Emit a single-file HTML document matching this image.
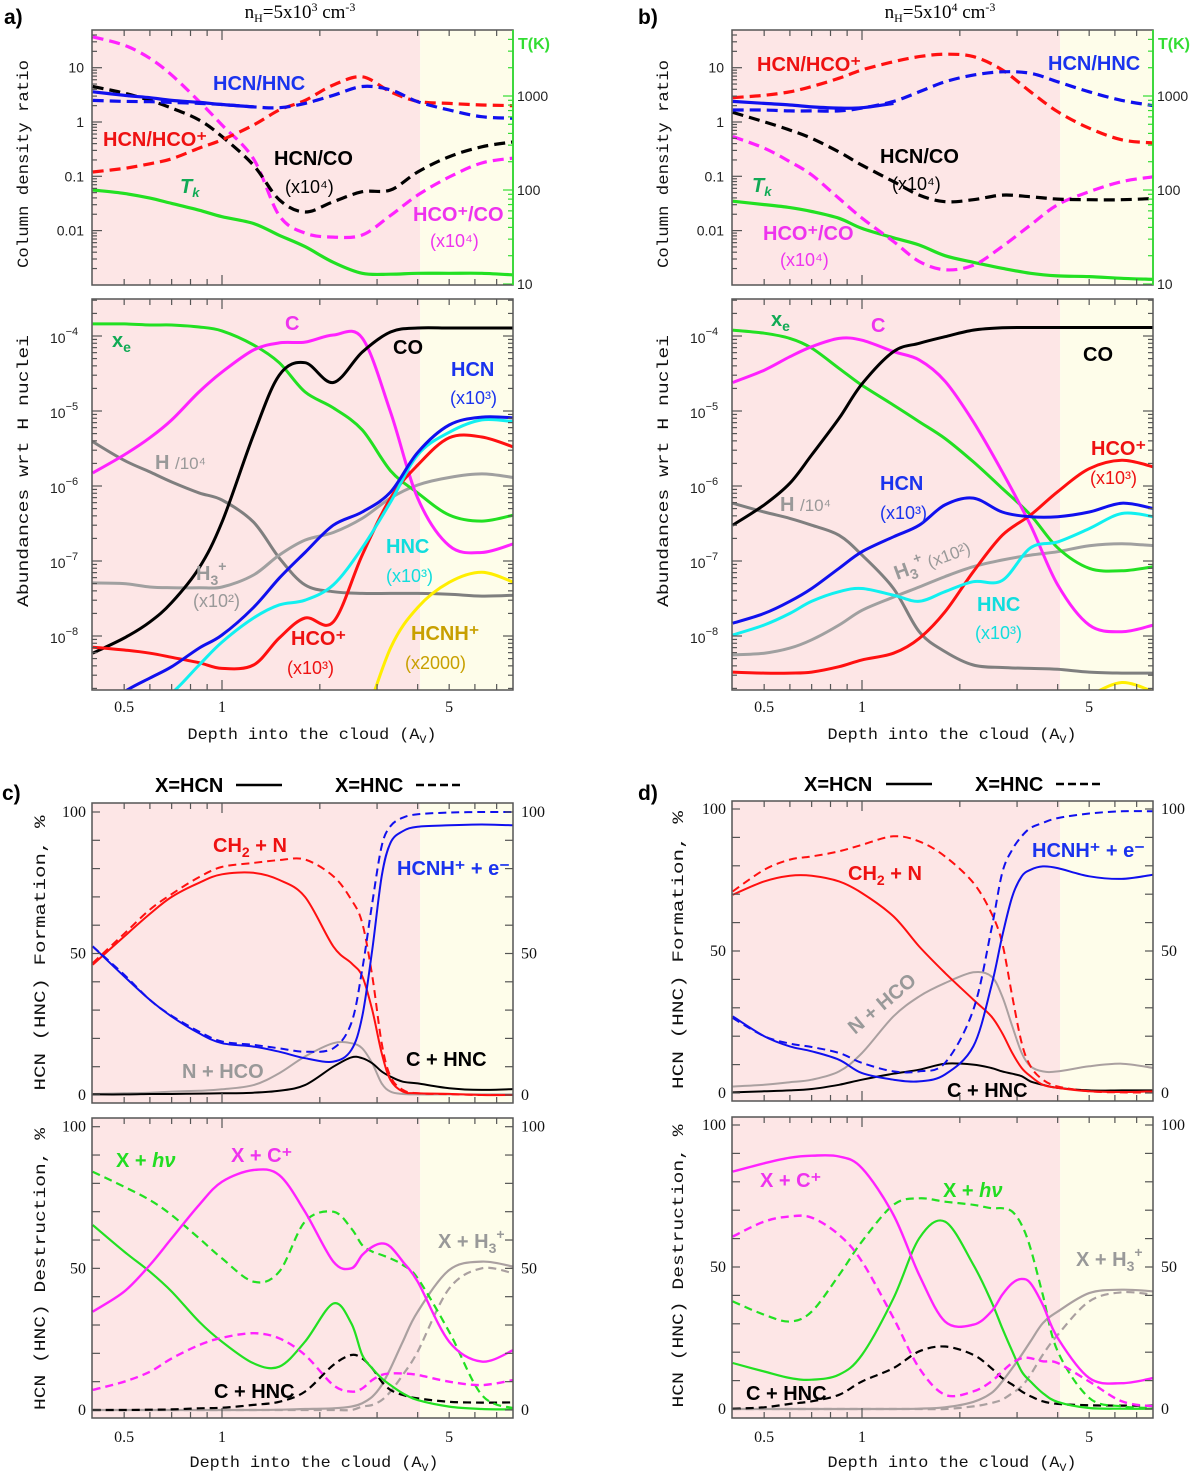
<!DOCTYPE html>
<html><head><meta charset="utf-8"><title>HCN/HNC chemistry figure</title>
<style>
html,body{margin:0;padding:0;background:#fff;}
svg{display:block;}
.lab{font-family:"Liberation Sans",sans-serif;font-weight:bold;font-size:20px;}
.sub{font-family:"Liberation Sans",sans-serif;font-size:18px;}
.tick{font-family:"Liberation Sans",sans-serif;font-size:14px;fill:#222;}
.ttl{font-family:"Liberation Mono",monospace;font-size:16px;fill:#111;}
.num{font-family:"Liberation Serif",serif;font-size:16px;fill:#111;}
</style></head>
<body>
<svg id="fig" width="1200" height="1473" viewBox="0 0 1200 1473" xmlns="http://www.w3.org/2000/svg">
<defs id="defs"></defs>
<g id="layer"></g>
<g id="labels">
  <text x="4" y="24" font-family="Liberation Sans" font-weight="bold" font-size="21">a)</text>
  <text x="638" y="24" font-family="Liberation Sans" font-weight="bold" font-size="21">b)</text>
  <text x="2" y="800" font-family="Liberation Sans" font-weight="bold" font-size="21">c)</text>
  <text x="638" y="800" font-family="Liberation Sans" font-weight="bold" font-size="21">d)</text>
  <text x="300" y="18" text-anchor="middle" font-family="Liberation Serif" font-size="19">n<tspan font-size="12" dy="4">H</tspan><tspan dy="-4">=5x10</tspan><tspan font-size="12" dy="-7">3</tspan><tspan dy="7"> cm</tspan><tspan font-size="12" dy="-7">-3</tspan></text>
  <text x="940" y="18" text-anchor="middle" font-family="Liberation Serif" font-size="19">n<tspan font-size="12" dy="4">H</tspan><tspan dy="-4">=5x10</tspan><tspan font-size="12" dy="-7">4</tspan><tspan dy="7"> cm</tspan><tspan font-size="12" dy="-7">-3</tspan></text>

  <text class="ttl" transform="translate(28,164) rotate(-90)" text-anchor="middle" textLength="208" lengthAdjust="spacingAndGlyphs">Column density ratio</text>
  <text class="ttl" transform="translate(28,471) rotate(-90)" text-anchor="middle" textLength="272" lengthAdjust="spacingAndGlyphs">Abundances wrt H nuclei</text>
  <text class="ttl" transform="translate(668,164) rotate(-90)" text-anchor="middle" textLength="208" lengthAdjust="spacingAndGlyphs">Column density ratio</text>
  <text class="ttl" transform="translate(668,471) rotate(-90)" text-anchor="middle" textLength="272" lengthAdjust="spacingAndGlyphs">Abundances wrt H nuclei</text>
  <text class="ttl" transform="translate(45,953) rotate(-90)" text-anchor="middle" textLength="275" lengthAdjust="spacingAndGlyphs">HCN (HNC) Formation, %</text>
  <text class="ttl" transform="translate(45,1269) rotate(-90)" text-anchor="middle" textLength="282" lengthAdjust="spacingAndGlyphs">HCN (HNC) Destruction, %</text>
  <text class="ttl" transform="translate(683,950) rotate(-90)" text-anchor="middle" textLength="278" lengthAdjust="spacingAndGlyphs">HCN (HNC) Formation, %</text>
  <text class="ttl" transform="translate(683,1266) rotate(-90)" text-anchor="middle" textLength="283" lengthAdjust="spacingAndGlyphs">HCN (HNC) Destruction, %</text>

  <text class="ttl" x="312" y="739" text-anchor="middle" textLength="249" lengthAdjust="spacingAndGlyphs">Depth into the cloud (A<tspan font-size="11" dy="4">V</tspan><tspan dy="-4">)</tspan></text>
  <text class="ttl" x="952" y="739" text-anchor="middle" textLength="249" lengthAdjust="spacingAndGlyphs">Depth into the cloud (A<tspan font-size="11" dy="4">V</tspan><tspan dy="-4">)</tspan></text>
  <text class="ttl" x="314" y="1467" text-anchor="middle" textLength="249" lengthAdjust="spacingAndGlyphs">Depth into the cloud (A<tspan font-size="11" dy="4">V</tspan><tspan dy="-4">)</tspan></text>
  <text class="ttl" x="952" y="1467" text-anchor="middle" textLength="249" lengthAdjust="spacingAndGlyphs">Depth into the cloud (A<tspan font-size="11" dy="4">V</tspan><tspan dy="-4">)</tspan></text>

  <text x="518" y="49" fill="#33dd33" font-family="Liberation Sans" font-weight="bold" font-size="16">T(K)</text>
  <text x="1158" y="49" fill="#33dd33" font-family="Liberation Sans" font-weight="bold" font-size="16">T(K)</text>

  <text class="lab" x="213" y="90" fill="#1a33ee">HCN/HNC</text>
  <text class="lab" x="103" y="146" fill="#ee1111">HCN/HCO⁺</text>
  <text class="lab" x="274" y="165" fill="#000">HCN/CO</text>
  <text class="sub" x="285" y="193" fill="#000">(x10⁴)</text>
  <text class="lab" x="413" y="221" fill="#ee33ee">HCO⁺/CO</text>
  <text class="sub" x="430" y="247" fill="#ee33ee">(x10⁴)</text>
  <text class="lab" x="180" y="193" fill="#11aa55" font-style="italic">T<tspan font-size="13" dy="4">k</tspan></text>
  <text class="lab" x="757" y="71" fill="#ee1111">HCN/HCO⁺</text>
  <text class="lab" x="1048" y="70" fill="#1a33ee">HCN/HNC</text>
  <text class="lab" x="880" y="163" fill="#000">HCN/CO</text>
  <text class="sub" x="892" y="190" fill="#000">(x10⁴)</text>
  <text class="lab" x="752" y="192" fill="#11aa55" font-style="italic">T<tspan font-size="13" dy="4">k</tspan></text>
  <text class="lab" x="763" y="240" fill="#ee33ee">HCO⁺/CO</text>
  <text class="sub" x="780" y="266" fill="#ee33ee">(x10⁴)</text>

  <text class="lab" x="112" y="347" fill="#11aa55">x<tspan font-size="14" dy="5">e</tspan></text>
  <text class="lab" x="285" y="330" fill="#ee33ee">C</text>
  <text class="lab" x="393" y="354" fill="#000">CO</text>
  <text class="lab" x="451" y="376" fill="#1a33ee">HCN</text>
  <text class="sub" x="450" y="404" fill="#1a33ee">(x10³)</text>
  <text class="lab" x="155" y="469" fill="#999">H <tspan font-weight="normal" font-size="17">/10⁴</tspan></text>
  <text class="lab" x="196" y="580" fill="#999">H<tspan font-size="14" dy="5">3</tspan><tspan font-size="14" dy="-14">+</tspan></text>
  <text class="sub" x="193" y="607" fill="#999">(x10²)</text>
  <text class="lab" x="386" y="553" fill="#11dddd">HNC</text>
  <text class="sub" x="386" y="582" fill="#11dddd">(x10³)</text>
  <text class="lab" x="291" y="645" fill="#ee1111">HCO⁺</text>
  <text class="sub" x="287" y="674" fill="#ee1111">(x10³)</text>
  <text class="lab" x="411" y="640" fill="#c8a000">HCNH⁺</text>
  <text class="sub" x="405" y="669" fill="#c8a000">(x2000)</text>
  <text class="lab" x="771" y="326" fill="#11aa55">x<tspan font-size="14" dy="5">e</tspan></text>
  <text class="lab" x="871" y="332" fill="#ee33ee">C</text>
  <text class="lab" x="1083" y="361" fill="#000">CO</text>
  <text class="lab" x="1091" y="455" fill="#ee1111">HCO⁺</text>
  <text class="sub" x="1090" y="484" fill="#ee1111">(x10³)</text>
  <text class="lab" x="880" y="490" fill="#1a33ee">HCN</text>
  <text class="sub" x="880" y="519" fill="#1a33ee">(x10³)</text>
  <text class="lab" x="780" y="511" fill="#999">H <tspan font-weight="normal" font-size="17">/10⁴</tspan></text>
  <text class="lab" transform="translate(897,580) rotate(-20)" fill="#999">H<tspan font-size="14" dy="5">3</tspan><tspan font-size="14" dy="-14">+</tspan><tspan font-weight="normal" font-size="17" dy="9"> (x10²)</tspan></text>
  <text class="lab" x="977" y="611" fill="#11dddd">HNC</text>
  <text class="sub" x="975" y="639" fill="#11dddd">(x10³)</text>

  <text class="lab" x="155" y="792" fill="#000">X=HCN</text>
  <line x1="236" y1="785" x2="282" y2="785" stroke="#000" stroke-width="2.5"/>
  <text class="lab" x="335" y="792" fill="#000">X=HNC</text>
  <line x1="416" y1="785" x2="462" y2="785" stroke="#000" stroke-width="2.5" stroke-dasharray="8,4"/>
  <text class="lab" x="804" y="791" fill="#000">X=HCN</text>
  <line x1="886" y1="784" x2="932" y2="784" stroke="#000" stroke-width="2.5"/>
  <text class="lab" x="975" y="791" fill="#000">X=HNC</text>
  <line x1="1056" y1="784" x2="1102" y2="784" stroke="#000" stroke-width="2.5" stroke-dasharray="8,4"/>

  <text class="lab" x="213" y="852" fill="#ee1111">CH<tspan font-size="14" dy="5">2</tspan><tspan dy="-5"> + N</tspan></text>
  <text class="lab" x="397" y="875" fill="#1a33ee">HCNH⁺ + e⁻</text>
  <text class="lab" x="182" y="1078" fill="#999">N + HCO</text>
  <text class="lab" x="406" y="1066" fill="#000">C + HNC</text>
  <text class="lab" x="116" y="1167" fill="#22dd22">X + <tspan font-style="italic">hν</tspan></text>
  <text class="lab" x="231" y="1162" fill="#ee33ee">X + C⁺</text>
  <text class="lab" x="438" y="1248" fill="#999">X + H<tspan font-size="14" dy="5">3</tspan><tspan font-size="14" dy="-14">+</tspan></text>
  <text class="lab" x="214" y="1398" fill="#000">C + HNC</text>
  <text class="lab" x="848" y="880" fill="#ee1111">CH<tspan font-size="14" dy="5">2</tspan><tspan dy="-5"> + N</tspan></text>
  <text class="lab" x="1032" y="857" fill="#1a33ee">HCNH⁺ + e⁻</text>
  <text class="lab" transform="translate(855,1035) rotate(-40)" fill="#999">N + HCO</text>
  <text class="lab" x="947" y="1097" fill="#000">C + HNC</text>
  <text class="lab" x="760" y="1187" fill="#ee33ee">X + C⁺</text>
  <text class="lab" x="943" y="1197" fill="#22dd22">X + <tspan font-style="italic">hν</tspan></text>
  <text class="lab" x="1076" y="1266" fill="#999">X + H<tspan font-size="14" dy="5">3</tspan><tspan font-size="14" dy="-14">+</tspan></text>
  <text class="lab" x="746" y="1400" fill="#000">C + HNC</text>
</g>
</svg>
<script>
const depthAB = [0.4,0.5,0.6,0.7,0.85,1,1.25,1.5,1.8,2.2,2.7,3.3,4,5,6.3,7.9];
const depthCD = [0.4,0.5,0.6,0.7,0.85,1,1.25,1.5,1.8,2.2,2.5,2.7,2.9,3.1,3.3,3.6,4,5,6.3,7.9];
const xTickLabels = ["0.5","1","5"];
const xTickValues = [0.5,1,5];

const aHcnHncSolid = [3.6,3.1,2.8,2.5,2.3,2.1,1.9,null,null,null,null,null,null,null,null,null];
const aHcnHncDash = [2.5,2.4,2.37,2.3,2.2,2.1,1.9,1.83,2.2,3.1,4.5,3.9,2.37,1.66,1.25,1.17];
const aHcnHco = [0.12,0.14,0.17,0.21,0.33,0.47,0.88,1.66,2.5,4.8,6.8,3.6,2.4,2.2,2.06,2.0];
const aHcnCo = [4.5,3.4,2.5,1.8,1.09,0.54,0.16,0.037,0.022,0.034,0.052,0.056,0.12,0.23,0.35,0.43];
const aHcoCo = [37,26,14.9,7.3,2.4,0.88,0.21,0.019,0.009,0.0076,0.0083,0.019,0.045,0.097,0.176,0.217];
const aTk = [100,92,82,72,61,52,44,33,25,17,13,12.7,13,13,13,12.5];
const bHcnHco = [2.8,3.1,3.6,4.5,6.4,9.1,12.9,16,17.7,16,9.1,3.6,1.55,0.77,0.47,0.41];
const bHcnHncDash = [1.66,1.66,1.6,1.6,1.6,1.8,2.4,3.6,5.5,7.3,8.4,7.9,5.5,3.6,2.5,2.0];
const bHcnHncSolid = [2.4,2.2,2.06,1.9,1.8,1.83,2.2,null,null,null,null,null,null,null,null,null];
const bHcnCo = [1.5,1.01,0.71,0.5,0.28,0.16,0.08,0.045,0.034,0.037,0.045,0.042,0.038,0.037,0.037,0.039];
const bHcoCo = [0.54,0.33,0.186,0.106,0.039,0.017,0.0063,0.0027,0.0019,0.0023,0.0051,0.0127,0.03,0.052,0.08,0.098];
const bTk = [76,70,65,59,50,39,31,26,20,17,14.7,13,12.2,12,11.5,11.2];
const aXe = [1.45e-4,1.45e-4,1.4e-4,1.4e-4,1.32e-4,1.17e-4,7.6e-5,4.4e-5,1.8e-5,1.1e-5,5.6e-6,1.6e-6,8.1e-7,4.1e-7,3.4e-7,4.1e-7];
const aC = [1.49e-6,2.6e-6,4.4e-6,7.6e-6,1.8e-5,3.3e-5,6.5e-5,8.1e-5,8.3e-5,1.03e-4,9.4e-5,9.7e-6,6.9e-7,1.6e-7,1.3e-7,1.7e-7];
const aCO = [5.9e-9,9.4e-9,1.54e-8,2.8e-8,8.1e-8,3.3e-7,4.8e-6,3.0e-5,4.4e-5,2.4e-5,6.1e-5,1.13e-4,1.28e-4,1.28e-4,1.28e-4,1.28e-4];
const aHCN = [8.9e-10,1.8e-9,2.75e-9,3.9e-9,6.9e-9,1.03e-8,2.4e-8,5.9e-8,1.3e-7,3.0e-7,4.5e-7,8.3e-7,2.8e-6,6.5e-6,8.3e-6,8.1e-6];
const aHNC = [5.9e-10,8.9e-10,1.3e-9,1.74e-9,4.1e-9,8.3e-9,1.74e-8,2.6e-8,3.0e-8,4.8e-8,1.5e-7,6.1e-7,2.6e-6,5.2e-6,7.6e-6,7.2e-6];
const aHCOp = [7.1e-9,6.5e-9,5.9e-9,5.2e-9,4.4e-9,3.7e-9,4.1e-9,9.4e-9,1.74e-8,1.54e-8,1.2e-7,6.9e-7,1.9e-6,4.4e-6,4.5e-6,3.3e-6];
const aH = [3.9e-6,2.2e-6,1.54e-6,1.13e-6,8.1e-7,6.5e-7,3.3e-7,1.1e-7,4.8e-8,3.9e-8,3.7e-8,3.7e-8,3.7e-8,3.6e-8,3.4e-8,3.5e-8];
const aH3p = [5.1e-8,5.0e-8,4.5e-8,4.4e-8,4.4e-8,4.5e-8,6.5e-8,1.2e-7,1.9e-7,2.4e-7,3.7e-7,6.9e-7,1.03e-6,1.3e-6,1.45e-6,1.3e-6];
const aHCNHp = [null,null,null,null,null,null,null,null,null,null,5.9e-10,6.9e-9,2.4e-8,5.2e-8,7.1e-8,5.2e-8];
const bXe = [1.2e-4,1.09e-4,9.3e-5,6.9e-5,3.7e-5,2.2e-5,1.2e-5,7.2e-6,4.3e-6,2.1e-6,9.3e-7,4.1e-7,1.5e-7,8.0e-8,7.4e-8,8.4e-8];
const bC = [2.4e-5,3.5e-5,5.3e-5,7.2e-5,9.3e-5,8.8e-5,6.2e-5,4.8e-5,2.5e-5,7.2e-6,1.55e-6,3.0e-7,4.8e-8,1.4e-8,1.14e-8,1.4e-8];
const bCO = [3.0e-7,5.6e-7,1.09e-6,2.6e-6,8.0e-6,2.3e-5,6.2e-5,8.0e-5,9.8e-5,1.2e-4,1.29e-4,1.3e-4,1.3e-4,1.3e-4,1.3e-4,1.3e-4];
const bHCN = [1.48e-8,2.0e-8,2.9e-8,4.3e-8,8.0e-8,1.33e-7,2.1e-7,3.0e-7,5.6e-7,6.9e-7,4.5e-7,3.9e-7,3.9e-7,4.5e-7,5.9e-7,5.0e-7];
const bHNC = [1.03e-8,1.4e-8,2.0e-8,2.9e-8,3.9e-8,4.3e-8,3.5e-8,2.9e-8,3.9e-8,5.3e-8,5.5e-8,1.5e-7,1.8e-7,2.7e-7,4.3e-7,3.9e-7];
const bH3p = [5.6e-9,5.9e-9,6.9e-9,8.9e-9,1.4e-8,2.2e-8,3.3e-8,4.5e-8,6.2e-8,8.4e-8,1.03e-7,1.2e-7,1.33e-7,1.6e-7,1.7e-7,1.6e-7];
const bH = [5.9e-7,4.5e-7,3.7e-7,3.0e-7,2.2e-7,1.2e-7,4.3e-8,1.14e-8,6.2e-9,4.1e-9,3.8e-9,3.7e-9,3.6e-9,3.3e-9,3.2e-9,3.2e-9];
const bHCOp = [3.3e-9,3.2e-9,3.2e-9,3.3e-9,3.9e-9,4.8e-9,5.9e-9,9.3e-9,2.1e-8,7.2e-8,2.2e-7,4.1e-7,8.4e-7,1.7e-6,2.2e-6,1.8e-6];
const bHCNHp = [null,null,null,null,null,null,null,null,null,null,null,null,null,1.6e-9,2.4e-9,1.8e-9];
const cCh2nHcn = [46,56,64,70,75,78,78.5,76,70,52.5,46.6,42,30,14.8,5.3,1.2,0.6,0.4,0,0];
const cCh2nHnc = [46.6,57,65.5,71,77,80.6,82,83,83.2,77.3,69,60.8,42,18.3,6.5,1.8,0.6,0.3,0,0];
const cHcnhHcn = [52.5,41.9,33.6,27.7,21.8,18.3,17.1,15.3,13,11.8,15.9,27.7,51.4,77.3,89.1,93.2,94.8,95.3,95.6,95.3];
const cHcnhHnc = [52.5,42.5,33.6,28,22.4,18.9,17.7,16.5,15.3,16.5,25.4,44.3,67.9,88,95,98,99.2,99.8,100,100];
const cNhco = [0.35,0.6,0.8,1.2,1.5,2,3.5,7.7,13.6,18.3,18.3,16.5,11.2,4.1,1.2,0.35,0.2,0.2,0.2,0.2];
const cChnc = [0.2,0.2,0.35,0.35,0.5,0.6,0.8,1.5,3.5,10,13.3,13,11.2,8.3,6.5,4.7,4.1,2.4,1.8,2.1];
const dCh2nHcn = [69.8,74.5,76.5,76.5,74.5,70.4,62.2,51.6,42.3,32.9,27,21.1,14.1,8.8,5.9,2.9,1.8,0.6,0.35,0.6];
const dCh2nHnc = [71,78.6,82.2,83.3,85.1,87.4,90.4,88.6,83.3,74,63.4,52.8,34,17.6,9.4,4.7,2.3,0.6,0.2,0.2];
const dHcnhHcn = [27,20,16.4,14.7,11.7,7,4.7,4.1,6.5,16.4,37.6,55.2,69.2,76.3,78.6,79.8,79.2,76.3,75.4,76.9];
const dHcnhHnc = [26.4,20,17.4,16.2,14.1,10.6,7.6,7.6,10.6,29.3,57.5,77.5,85.7,90.4,93.3,95.1,96.8,98.4,99.2,99.2];
const dNhco = [2.3,2.9,3.8,4.7,7.6,14.1,27,34,38.7,42.5,41.1,34,23.5,14.1,9.4,7.6,7.6,9.4,10.3,8.8];
const dChnc = [0.2,0.6,0.9,1.4,2.9,4.7,6.8,8.2,10.3,10,8.8,7.6,6.8,5.9,4.1,2.9,1.8,0.9,0.9,0.9];
const cCpHcn = [34.7,41.8,51.2,60.6,72.4,80.6,84.7,82.9,70,52.4,50,54.7,57.6,58.8,57.6,52.4,45.3,24.1,17.1,21.2];
const cCpHnc = [7.1,10,13.5,18.2,22.9,25.5,27.1,25.3,19.4,8.8,6.5,7.6,10.6,12.4,12.9,12.9,12.4,10,8.8,10.6];
const cHvHcn = [65.3,55.9,48.8,41.8,31.2,24.1,16.5,15.3,24.1,37.6,30.6,19.4,14.7,11.2,8.8,5.9,3.5,1.2,0.35,0.2];
const cHvHnc = [84.1,78.8,74.1,68.8,60.6,53.5,45.3,48.8,66.5,70,64.1,58.2,55.9,54.7,53.5,51.2,46.5,27.6,5.3,0.6];
const cChncD = [0,0,0.1,0.2,0.6,0.8,1.8,2.9,6.5,15.9,19.4,18.2,14.7,10,7.1,5.3,4.1,2.9,2.6,2.7];
const cH3Hcn = [0,0,0,0,0,0,0,0.1,0.35,0.6,1.2,2.4,4.7,8.8,14.7,24.1,34.7,49.4,52.4,50.6];
const cH3Hnc = [0,0,0,0,0,0,0,0,0,0,0,1.2,1.8,3.5,6.5,12.4,20.6,42.9,50,48.2];
const dCpHcn = [83.6,86.5,88.5,89.2,88.9,84.8,68.3,47.2,30.8,29.7,34.3,40.2,44.3,45.8,44.3,36.7,25,10.9,9.1,10.9];
const dCpHnc = [60.7,66,67.8,67.4,61.3,51.9,32,14.4,5,6.2,9.7,13.2,16.2,17.9,17.9,16.8,16.2,9.7,2.7,0.9];
const dHvHcn = [16.2,13.2,10.9,10.3,12.1,19.1,39,60.1,66,50.8,37.9,28.5,20.3,13.2,9.7,5.6,2.5,0.35,0.1,0.1];
const dHvHnc = [37.9,33.2,30.8,34.3,47.2,59,71.9,74.2,73,71.9,70.7,70.7,69.5,64.8,56.6,40.2,20.3,3.9,0.9,0.35];
const dChncD = [0.1,0.6,1.8,2.7,5,9.7,14.4,20.3,22,19.1,14.4,10.9,8.6,6.2,4.5,2.7,1.8,1.3,1.2,1.2];
const dH3Hcn = [0,0,0,0,0,0,0,0.1,0.6,2.5,5.6,9.7,14.4,19.1,23.8,30.2,34.3,40.8,42,41.4];
const dH3Hnc = [0,0,0,0,0,0,0,0,0,0.9,2.1,3.3,5.6,8,12.1,19.1,26.1,37.9,41.1,40.2];

const NS = "http://www.w3.org/2000/svg";
const layer = document.getElementById("layer");
const defs = document.getElementById("defs");
const PX_PER_DECADE = 325;
const SHADE_EDGE = 4.07;
const logRatioY = v => 122 - 54.3*Math.log10(v);
const logTkY = v => 190 - 94*Math.log10(v/100);
const logAbY = v => 336 - 75*(Math.log10(v)+4);
const panels = {
  aTop:{x0:92,x1:513,y0:30,y1:285,xo:222,yf:logRatioY},
  aBot:{x0:92,x1:513,y0:299,y1:690,xo:222,yf:logAbY},
  bTop:{x0:732,x1:1153,y0:30,y1:285,xo:862,yf:logRatioY},
  bBot:{x0:732,x1:1153,y0:299,y1:690,xo:862,yf:logAbY},
  cTop:{x0:92,x1:513,y0:803,y1:1103,xo:222,yf:v=>1095-2.83*v},
  cBot:{x0:92,x1:513,y0:1118,y1:1418,xo:222,yf:v=>1410-2.833*v},
  dTop:{x0:732,x1:1153,y0:801,y1:1101,xo:862,yf:v=>1093-2.84*v},
  dBot:{x0:732,x1:1153,y0:1117,y1:1418,xo:862,yf:v=>1409-2.84*v}
};
function xScale(p, v){ return p.xo + PX_PER_DECADE*Math.log10(v); }
function el(tag, attrs, parent){
  const e = document.createElementNS(NS, tag);
  for (const k in attrs) e.setAttribute(k, attrs[k]);
  (parent||layer).appendChild(e);
  return e;
}
function spline(pts){
  let d = "M"+pts[0][0].toFixed(1)+","+pts[0][1].toFixed(1);
  for (let i=0;i<pts.length-1;i++){
    const p0=pts[i-1]||pts[i], p1=pts[i], p2=pts[i+1], p3=pts[i+2]||pts[i+1];
    const c1=[p1[0]+(p2[0]-p0[0])/6, p1[1]+(p2[1]-p0[1])/6];
    const c2=[p2[0]-(p3[0]-p1[0])/6, p2[1]-(p3[1]-p1[1])/6];
    d += " C"+c1[0].toFixed(1)+","+c1[1].toFixed(1)+" "+c2[0].toFixed(1)+","+c2[1].toFixed(1)+" "+p2[0].toFixed(1)+","+p2[1].toFixed(1);
  }
  return d;
}
const panelGroups = {};
for (const key in panels){
  const p = panels[key];
  const g = el("g", {});
  
  
  panelGroups[key] = g;
  const cp = el("clipPath", {id:"clip-"+key}, defs);
  el("rect", {x:p.x0, y:p.y0, width:p.x1-p.x0, height:p.y1-p.y0}, cp);
  const xe = xScale(p, SHADE_EDGE);
  const pink = el("rect", {x:p.x0, y:p.y0, width:xe-p.x0, height:p.y1-p.y0, fill:"#fde6e6"}, g);
  
  
  const yel = el("rect", {x:xe, y:p.y0, width:p.x1-xe, height:p.y1-p.y0, fill:"#fefdea"}, g);
  
  
  const cg = el("g", {"clip-path":"url(#clip-"+key+")"}, g);
  
  
  p.curves = cg;
}
function series(key, depth, vals, color, dash, width, name, yfOverride){
  const p = panels[key];
  const yf = yfOverride || p.yf;
  let segs=[], cur=[];
  for (let i=0;i<depth.length;i++){
    const v = vals[i];
    if (v===null || v===undefined){ if(cur.length) segs.push(cur); cur=[]; continue; }
    const vv = (yf===logRatioY||yf===logTkY||yf===logAbY) ? Math.max(v,1e-12) : v;
    cur.push([xScale(p, depth[i]), yf(vv)]);
  }
  if (cur.length) segs.push(cur);
  segs.forEach(s=>{
    if (s.length<2) return;
    const path = el("path", {d:spline(s), fill:"none", stroke:color, "stroke-width":width, "stroke-linejoin":"round"}, p.curves);
    if (dash) path.setAttribute("stroke-dasharray", dash);
    
    
  });
}
const RED="#ff1010", BLUE="#1010ee", MAG="#ff22ff", GRN="#22e022", CYAN="#11f0f0", BLK="#000", LGRY="#a0a0a0", DGRY="#7f7f7f", YEL="#ffee00", GRYC="#aaa0a0";
const D1="11,6", D2="8,5";
series("aTop", depthAB, aTk, GRN, null, 3.2, "tk-line-a", logTkY);
series("aTop", depthAB, aHcoCo, MAG, D1, 3.2, "hco-co-line-a");
series("aTop", depthAB, aHcnCo, BLK, D1, 3.2, "hcn-co-line-a");
series("aTop", depthAB, aHcnHco, RED, D1, 3.2, "hcn-hco-line-a");
series("aTop", depthAB, aHcnHncSolid, BLUE, null, 3.2, "hcn-hnc-solid-line-a");
series("aTop", depthAB, aHcnHncDash, BLUE, D1, 3.2, "hcn-hnc-dashed-line-a");
series("bTop", depthAB, bTk, GRN, null, 3.2, "tk-line-b", logTkY);
series("bTop", depthAB, bHcoCo, MAG, D1, 3.2, "hco-co-line-b");
series("bTop", depthAB, bHcnCo, BLK, D1, 3.2, "hcn-co-line-b");
series("bTop", depthAB, bHcnHco, RED, D1, 3.2, "hcn-hco-line-b");
series("bTop", depthAB, bHcnHncSolid, BLUE, null, 3.2, "hcn-hnc-solid-line-b");
series("bTop", depthAB, bHcnHncDash, BLUE, D1, 3.2, "hcn-hnc-dashed-line-b");
series("aBot", depthAB, aH, DGRY, null, 3, "h-line-a");
series("aBot", depthAB, aH3p, LGRY, null, 3, "h3p-line-a");
series("aBot", depthAB, aHCNHp, YEL, null, 3, "hcnhp-line-a");
series("aBot", depthAB, aXe, GRN, null, 3, "xe-line-a");
series("aBot", depthAB, aC, MAG, null, 3, "c-line-a");
series("aBot", depthAB, aCO, BLK, null, 3, "co-line-a");
series("aBot", depthAB, aHCOp, RED, null, 3, "hcop-line-a");
series("aBot", depthAB, aHNC, CYAN, null, 3, "hnc-line-a");
series("aBot", depthAB, aHCN, BLUE, null, 3, "hcn-line-a");
series("bBot", depthAB, bH, DGRY, null, 3, "h-line-b");
series("bBot", depthAB, bH3p, LGRY, null, 3, "h3p-line-b");
series("bBot", depthAB, bHCNHp, YEL, null, 3, "hcnhp-line-b");
series("bBot", depthAB, bXe, GRN, null, 3, "xe-line-b");
series("bBot", depthAB, bC, MAG, null, 3, "c-line-b");
series("bBot", depthAB, bCO, BLK, null, 3, "co-line-b");
series("bBot", depthAB, bHCOp, RED, null, 3, "hcop-line-b");
series("bBot", depthAB, bHNC, CYAN, null, 3, "hnc-line-b");
series("bBot", depthAB, bHCN, BLUE, null, 3, "hcn-line-b");
series("cTop", depthCD, cNhco, GRYC, null, 2, "nhco-hcn-line-c");
series("cTop", depthCD, cChnc, BLK, null, 2, "chnc-line-c");
series("cTop", depthCD, cCh2nHcn, RED, null, 2, "ch2n-hcn-line-c");
series("cTop", depthCD, cCh2nHnc, RED, D2, 2, "ch2n-hnc-line-c");
series("cTop", depthCD, cHcnhHcn, BLUE, null, 2, "hcnh-hcn-line-c");
series("cTop", depthCD, cHcnhHnc, BLUE, D2, 2, "hcnh-hnc-line-c");
series("dTop", depthCD, dNhco, GRYC, null, 2, "nhco-hcn-line-d");
series("dTop", depthCD, dChnc, BLK, null, 2, "chnc-line-d");
series("dTop", depthCD, dCh2nHcn, RED, null, 2, "ch2n-hcn-line-d");
series("dTop", depthCD, dCh2nHnc, RED, D2, 2, "ch2n-hnc-line-d");
series("dTop", depthCD, dHcnhHcn, BLUE, null, 2, "hcnh-hcn-line-d");
series("dTop", depthCD, dHcnhHnc, BLUE, D2, 2, "hcnh-hnc-line-d");
series("cBot", depthCD, cH3Hcn, GRYC, null, 2.2, "h3p-hcn-line-c");
series("cBot", depthCD, cH3Hnc, GRYC, D2, 2.2, "h3p-hnc-line-c");
series("cBot", depthCD, cChncD, BLK, D2, 2.2, "chnc-destr-line-c");
series("cBot", depthCD, cHvHcn, GRN, null, 2.2, "hv-hcn-line-c");
series("cBot", depthCD, cHvHnc, GRN, D2, 2.2, "hv-hnc-line-c");
series("cBot", depthCD, cCpHcn, MAG, null, 2.4, "cp-hcn-line-c");
series("cBot", depthCD, cCpHnc, MAG, D2, 2.4, "cp-hnc-line-c");
series("dBot", depthCD, dH3Hcn, GRYC, null, 2.2, "h3p-hcn-line-d");
series("dBot", depthCD, dH3Hnc, GRYC, D2, 2.2, "h3p-hnc-line-d");
series("dBot", depthCD, dChncD, BLK, D2, 2.2, "chnc-destr-line-d");
series("dBot", depthCD, dHvHcn, GRN, null, 2.2, "hv-hcn-line-d");
series("dBot", depthCD, dHvHnc, GRN, D2, 2.2, "hv-hnc-line-d");
series("dBot", depthCD, dCpHcn, MAG, null, 2.4, "cp-hcn-line-d");
series("dBot", depthCD, dCpHnc, MAG, D2, 2.4, "cp-hnc-line-d");

function tick(g, x1,y1,x2,y2,color){
  const t = el("line", {x1:x1,y1:y1,x2:x2,y2:y2,stroke:color||"#555","stroke-width":1.2}, g);
  
  
}
function label(g, x, y, txt, anchor, color, cls){
  const t = el("text", {x:x, y:y, "text-anchor":anchor||"middle", class:cls||"tick", fill:color||"#222"}, g);
  t.textContent = txt;
  
  
  return t;
}
const minorX = [0.4,0.5,0.6,0.7,0.8,0.9,1,2,3,4,5,6,7];
for (const key in panels){
  const p = panels[key], g = panelGroups[key];
  minorX.forEach(v=>{
    const x = xScale(p, v);
    if (x < p.x0+1 || x > p.x1-1) return;
    const L = (v===1) ? 10 : 6;
    tick(g, x, p.y1, x, p.y1-L);
    tick(g, x, p.y0, x, p.y0+L);
  });
  const isLog = (p.yf===logRatioY || p.yf===logAbY);
  if (isLog){
    for (let e=-10;e<=2;e++){
      for (let m=1;m<=9;m++){
        const v = m*Math.pow(10,e);
        const y = p.yf(v);
        if (y < p.y0+1 || y > p.y1-1) continue;
        const L = m===1 ? 10 : 5;
        tick(g, p.x0, y, p.x0+L, y);
        if (p.yf===logAbY) tick(g, p.x1, y, p.x1-L, y);
      }
    }
    if (p.yf===logRatioY){
      for (let e=0;e<=4;e++){
        for (let m=1;m<=9;m++){
          const v = m*Math.pow(10,e);
          const y = logTkY(v);
          if (y < p.y0+1 || y > p.y1-1) continue;
          const L = m===1 ? 10 : 5;
          tick(g, p.x1, y, p.x1-L, y, "#33dd33");
        }
      }
    }
  } else {
    for (let v=0; v<=100; v+=10){
      const y = p.yf(v);
      tick(g, p.x0, y, p.x0+8, y);
      tick(g, p.x1, y, p.x1-8, y);
    }
  }
  const fr = el("rect", {x:p.x0, y:p.y0, width:p.x1-p.x0, height:p.y1-p.y0, fill:"none", stroke:"#555", "stroke-width":1.5}, g);
  
  
  if (p.yf===logRatioY){
    const sp = el("line", {x1:p.x1, y1:p.y0, x2:p.x1, y2:p.y1, stroke:"#33dd33", "stroke-width":1.8}, g);
    
    
  }
}
const ratioTickVals = [10,1,0.1,0.01];
const ratioTickText = ["10","1","0.1","0.01"];
const tkTickVals = [1000,100,10];
const tkTickText = ["1000","100","10"];
const abTickExp = [-4,-5,-6,-7,-8];
const pctTickVals = [100,50,0];
const pctTickText = ["100","50","0"];
["aTop","bTop"].forEach(key=>{
  const p = panels[key], g = panelGroups[key];
  ratioTickVals.forEach((v,i)=>label(g, p.x0-8, p.yf(v)+5, ratioTickText[i], "end"));
  tkTickVals.forEach((v,i)=>label(g, p.x1+4, logTkY(v)+5, tkTickText[i], "start", "#33dd33"));
});
["aBot","bBot"].forEach(key=>{
  const p = panels[key], g = panelGroups[key];
  abTickExp.forEach(e=>{
    const t = label(g, p.x0-42, p.yf(Math.pow(10,e))+7, "10", "start");
    const s = document.createElementNS(NS, "tspan");
    s.setAttribute("dy","-8"); s.setAttribute("font-size","11");
    s.textContent = "−"+Math.abs(e);
    t.appendChild(s);
  });
  xTickValues.forEach((v,i)=>label(g, xScale(p,v), p.y1+22, xTickLabels[i], "middle", "#111", "num"));
});
["cTop","cBot","dTop","dBot"].forEach(key=>{
  const p = panels[key], g = panelGroups[key];
  pctTickVals.forEach((v,i)=>{
    label(g, p.x0-6, p.yf(v)+5, pctTickText[i], "end", "#111", "num");
    label(g, p.x1+8, p.yf(v)+5, pctTickText[i], "start", "#111", "num");
  });
  if (key==="cBot"||key==="dBot") xTickValues.forEach((v,i)=>label(g, xScale(p,v), p.y1+24, xTickLabels[i], "middle", "#111", "num"));
});
</script>
</body></html>
